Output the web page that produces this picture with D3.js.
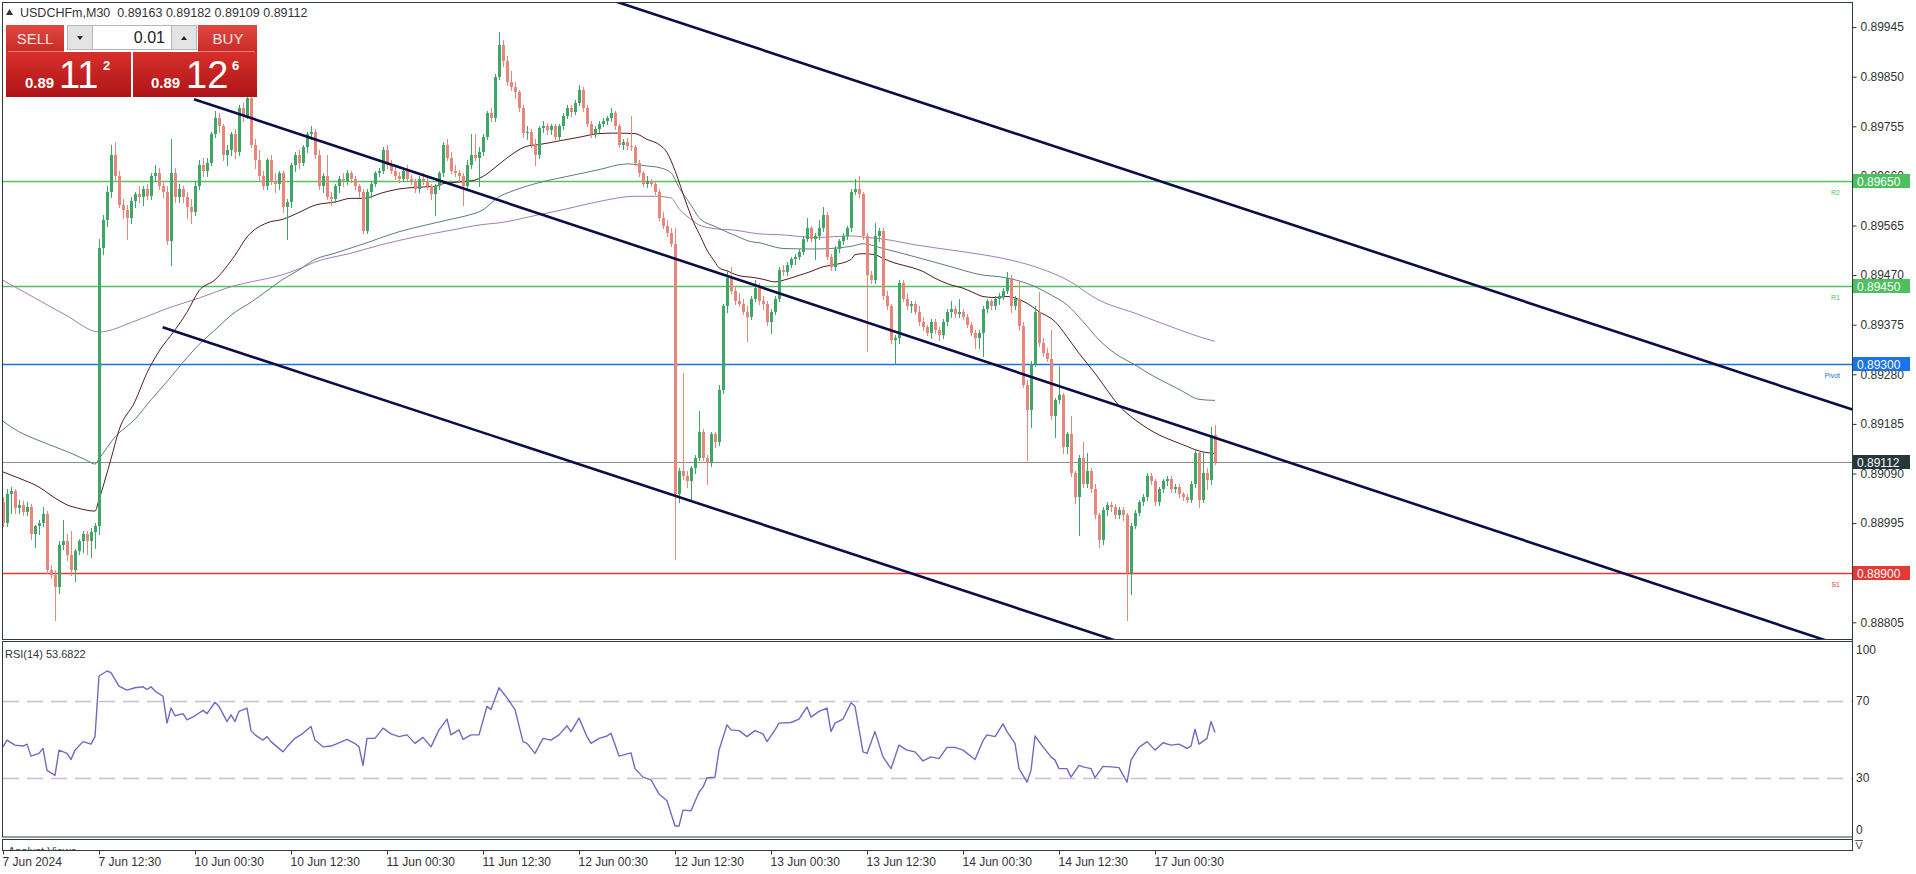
<!DOCTYPE html>
<html><head><meta charset="utf-8">
<script src="https://cdn.jsdelivr.net/npm/d3@7"></script>
<style>
body{margin:0;background:#fff;overflow:hidden}
svg{display:block}
text{font-family:'Liberation Sans',Arial,sans-serif}
</style></head>
<body><svg id="c" width="1916" height="874"></svg>
<script>
// ---------- DATA ----------
const symbolTitle = "USDCHFm,M30";
const headerOHLC = ["0.89163","0.89182","0.89109","0.89112"];
const rsiTitle = "RSI(14)";
const rsiCurrentText = "53.6822";
const open = [
.89036,.88995,.89050,.89057,.89023,.89030,.89016,.89026,.88975,.88989,
.88995,.89012,.88906,.88896,.88872,.88954,.88961,.88934,.88906,.88941,
.88961,.88975,.88961,.88978,.88989,.89522,.89575,.89630,.89700,.89660,
.89605,.89595,.89580,.89612,.89625,.89620,.89635,.89622,.89660,.89665,
.89640,.89630,.89535,.89665,.89620,.89635,.89620,.89600,.89590,.89640,
.89680,.89670,.89685,.89740,.89770,.89755,.89700,.89710,.89740,.89705,
.89790,.89775,.89810,.89720,.89690,.89660,.89640,.89690,.89650,.89645,
.89665,.89600,.89610,.89680,.89700,.89685,.89715,.89740,.89745,.89700,
.89640,.89660,.89620,.89615,.89640,.89655,.89650,.89665,.89655,.89640,
.89630,.89555,.89630,.89645,.89665,.89670,.89710,.89680,.89670,.89660,
.89655,.89670,.89655,.89650,.89635,.89655,.89650,.89640,.89625,.89640,
.89665,.89720,.89695,.89670,.89665,.89660,.89640,.89680,.89700,.89695,
.89705,.89735,.89780,.89770,.89850,.89910,.89880,.89840,.89830,.89820,
.89790,.89742,.89745,.89720,.89700,.89752,.89755,.89748,.89755,.89735,
.89755,.89775,.89790,.89782,.89800,.89825,.89790,.89760,.89740,.89750,
.89760,.89765,.89770,.89780,.89755,.89720,.89725,.89718,.89715,.89685,
.89665,.89645,.89650,.89645,.89630,.89580,.89565,.89550,.89530,.89050,
.89095,.89085,.89075,.89100,.89120,.89170,.89120,.89110,.89165,.89150,
.89250,.89410,.89465,.89440,.89420,.89415,.89400,.89390,.89425,.89445,
.89420,.89415,.89380,.89400,.89425,.89480,.89475,.89490,.89500,.89505,
.89515,.89540,.89560,.89540,.89545,.89560,.89585,.89505,.89485,.89520,
.89535,.89545,.89560,.89630,.89635,.89625,.89545,.89470,.89460,.89545,
.89555,.89430,.89410,.89345,.89350,.89455,.89425,.89410,.89415,.89400,
.89380,.89370,.89360,.89380,.89365,.89355,.89380,.89400,.89405,.89395,
.89400,.89390,.89375,.89360,.89350,.89360,.89405,.89420,.89410,.89425,
.89430,.89440,.89465,.89410,.89425,.89372,.89260,.89212,.89300,.89400,
.89340,.89320,.89310,.89200,.89230,.89240,.89140,.89165,.89090,.89045,
.89120,.89070,.89095,.89060,.89010,.88963,.89020,.89030,.89025,.89010,
.89020,.89010,.88900,.88990,.89015,.89035,.89045,.89085,.89075,.89035,
.89060,.89075,.89080,.89060,.89065,.89050,.89045,.89040,.89070,.89130,
.89040,.89090,.89078,.89163];
const high = [
.89045,.89060,.89065,.89060,.89040,.89038,.89035,.89032,.88992,.89000,
.89025,.89018,.88915,.88905,.88960,.89000,.88975,.88980,.88945,.88965,
.88980,.88980,.88985,.88995,.89540,.89585,.89640,.89720,.89725,.89670,
.89615,.89605,.89620,.89630,.89640,.89640,.89645,.89665,.89680,.89675,
.89650,.89640,.89730,.89675,.89645,.89640,.89630,.89615,.89650,.89690,
.89695,.89695,.89745,.89785,.89780,.89760,.89720,.89745,.89750,.89795,
.89800,.89830,.89815,.89730,.89710,.89670,.89695,.89700,.89665,.89670,
.89670,.89615,.89685,.89705,.89710,.89720,.89745,.89755,.89750,.89710,
.89665,.89700,.89630,.89645,.89660,.89665,.89672,.89670,.89660,.89645,
.89635,.89635,.89650,.89670,.89675,.89715,.89720,.89690,.89680,.89668,
.89675,.89680,.89662,.89655,.89660,.89665,.89660,.89645,.89645,.89670,
.89725,.89730,.89705,.89680,.89672,.89665,.89690,.89740,.89740,.89715,
.89740,.89785,.89790,.89855,.89935,.89920,.89890,.89860,.89840,.89825,
.89795,.89755,.89750,.89730,.89755,.89765,.89762,.89760,.89760,.89760,
.89780,.89795,.89795,.89805,.89835,.89830,.89795,.89765,.89755,.89765,
.89770,.89775,.89790,.89785,.89760,.89730,.89732,.89775,.89720,.89690,
.89670,.89660,.89655,.89650,.89635,.89590,.89575,.89560,.89560,.89100,
.89283,.89095,.89105,.89125,.89210,.89175,.89125,.89170,.89170,.89260,
.89415,.89480,.89485,.89450,.89435,.89425,.89410,.89430,.89460,.89455,
.89430,.89420,.89405,.89430,.89485,.89490,.89495,.89505,.89510,.89520,
.89545,.89580,.89565,.89550,.89575,.89600,.89590,.89510,.89525,.89540,
.89550,.89565,.89635,.89655,.89660,.89630,.89550,.89478,.89570,.89560,
.89560,.89440,.89415,.89355,.89460,.89460,.89435,.89420,.89420,.89410,
.89390,.89375,.89385,.89385,.89370,.89385,.89405,.89420,.89410,.89425,
.89405,.89395,.89380,.89365,.89365,.89410,.89425,.89425,.89430,.89435,
.89445,.89475,.89470,.89430,.89458,.89380,.89270,.89305,.89410,.89438,
.89350,.89330,.89365,.89235,.89295,.89245,.89170,.89200,.89095,.89125,
.89150,.89130,.89100,.89070,.89015,.89025,.89035,.89035,.89032,.89025,
.89025,.89015,.88995,.89020,.89040,.89050,.89090,.89090,.89080,.89065,
.89080,.89085,.89085,.89070,.89070,.89055,.89050,.89075,.89135,.89135,
.89130,.89100,.89180,.89182];
const low = [
.88990,.88990,.89015,.89015,.89015,.89010,.89010,.88965,.88950,.88975,
.88990,.88900,.88890,.88810,.88862,.88945,.88925,.88895,.88885,.88935,
.88940,.88935,.88930,.88947,.88975,.89510,.89565,.89620,.89650,.89600,
.89580,.89540,.89570,.89600,.89610,.89605,.89615,.89615,.89650,.89635,
.89620,.89530,.89490,.89610,.89610,.89610,.89580,.89570,.89585,.89635,
.89660,.89660,.89680,.89735,.89745,.89690,.89680,.89700,.89695,.89700,
.89765,.89770,.89715,.89675,.89650,.89635,.89635,.89645,.89630,.89635,
.89590,.89540,.89600,.89670,.89675,.89680,.89705,.89730,.89695,.89635,
.89630,.89615,.89605,.89610,.89630,.89640,.89645,.89648,.89635,.89620,
.89550,.89550,.89620,.89640,.89660,.89665,.89675,.89665,.89655,.89648,
.89650,.89650,.89645,.89630,.89630,.89645,.89635,.89615,.89585,.89635,
.89660,.89690,.89665,.89660,.89650,.89605,.89635,.89675,.89690,.89640,
.89700,.89730,.89765,.89765,.89845,.89870,.89835,.89825,.89810,.89785,
.89735,.89730,.89715,.89680,.89695,.89745,.89740,.89740,.89730,.89730,
.89750,.89770,.89775,.89778,.89795,.89785,.89755,.89735,.89735,.89745,
.89755,.89760,.89765,.89750,.89715,.89712,.89712,.89710,.89680,.89660,
.89640,.89638,.89640,.89625,.89575,.89560,.89545,.89525,.88927,.89035,
.89080,.89065,.89040,.89090,.89115,.89115,.89070,.89105,.89140,.89145,
.89245,.89400,.89435,.89415,.89410,.89395,.89344,.89385,.89420,.89415,
.89405,.89375,.89360,.89395,.89420,.89470,.89470,.89485,.89492,.89500,
.89510,.89535,.89535,.89500,.89540,.89555,.89500,.89480,.89480,.89515,
.89530,.89540,.89555,.89625,.89620,.89540,.89325,.89455,.89455,.89535,
.89425,.89405,.89340,.89300,.89340,.89420,.89405,.89400,.89395,.89375,
.89365,.89355,.89350,.89360,.89345,.89350,.89375,.89390,.89390,.89390,
.89385,.89370,.89355,.89330,.89330,.89315,.89400,.89405,.89405,.89415,
.89425,.89435,.89400,.89405,.89365,.89255,.89116,.89180,.89295,.89335,
.89315,.89305,.89195,.89160,.89225,.89130,.89130,.89085,.89033,.88972,
.89065,.89065,.89055,.89005,.88950,.88955,.89010,.89018,.89005,.89005,
.89000,.88810,.88860,.88985,.89010,.89030,.89040,.89070,.89030,.89030,
.89055,.89068,.89055,.89055,.89045,.89040,.89035,.89035,.89065,.89025,
.89035,.89060,.89070,.89109];
const close = [
.88995,.89050,.89057,.89023,.89030,.89016,.89026,.88975,.88989,.88995,
.89012,.88906,.88896,.88872,.88954,.88961,.88934,.88906,.88941,.88961,
.88975,.88961,.88978,.88989,.89522,.89575,.89630,.89700,.89660,.89605,
.89595,.89580,.89612,.89625,.89620,.89635,.89622,.89660,.89665,.89640,
.89630,.89535,.89665,.89620,.89635,.89620,.89600,.89590,.89640,.89680,
.89670,.89685,.89740,.89770,.89755,.89700,.89710,.89740,.89705,.89790,
.89775,.89810,.89720,.89690,.89660,.89640,.89690,.89650,.89645,.89665,
.89600,.89610,.89680,.89700,.89685,.89715,.89740,.89745,.89700,.89640,
.89660,.89620,.89615,.89640,.89655,.89650,.89665,.89655,.89640,.89630,
.89555,.89630,.89645,.89665,.89670,.89710,.89680,.89670,.89660,.89655,
.89670,.89655,.89650,.89635,.89655,.89650,.89640,.89625,.89640,.89665,
.89720,.89695,.89670,.89665,.89660,.89640,.89680,.89700,.89695,.89705,
.89735,.89780,.89770,.89850,.89910,.89880,.89840,.89830,.89820,.89790,
.89742,.89745,.89720,.89700,.89752,.89755,.89748,.89755,.89735,.89755,
.89775,.89790,.89782,.89800,.89825,.89790,.89760,.89740,.89750,.89760,
.89765,.89770,.89780,.89755,.89720,.89725,.89718,.89715,.89685,.89665,
.89645,.89650,.89645,.89630,.89580,.89565,.89550,.89530,.89050,.89095,
.89085,.89075,.89100,.89120,.89170,.89120,.89110,.89165,.89150,.89250,
.89410,.89465,.89440,.89420,.89415,.89400,.89390,.89425,.89445,.89420,
.89415,.89380,.89400,.89425,.89480,.89475,.89490,.89500,.89505,.89515,
.89540,.89560,.89540,.89545,.89560,.89585,.89505,.89485,.89520,.89535,
.89545,.89560,.89630,.89635,.89625,.89545,.89470,.89460,.89545,.89555,
.89430,.89410,.89345,.89350,.89455,.89425,.89410,.89415,.89400,.89380,
.89370,.89360,.89380,.89365,.89355,.89380,.89400,.89405,.89395,.89400,
.89390,.89375,.89360,.89350,.89360,.89405,.89420,.89410,.89425,.89430,
.89440,.89465,.89410,.89425,.89372,.89260,.89212,.89300,.89400,.89340,
.89320,.89310,.89200,.89230,.89240,.89140,.89165,.89090,.89045,.89120,
.89070,.89095,.89060,.89010,.88963,.89020,.89030,.89025,.89010,.89020,
.89010,.88900,.88990,.89015,.89035,.89045,.89085,.89075,.89035,.89060,
.89075,.89080,.89060,.89065,.89050,.89045,.89040,.89070,.89130,.89040,
.89090,.89078,.89163,.89112];

// moving averages, read at bar positions
const maFastIdx = [0,4,9,13,16,19,23,24,27,29,33,36,39,43,46,49,53,58,61,66,70,74,78,83,87,90,95,99,103,108,110,115,118,120,123,127,131,134,139,144,149,153,158,161,164,166,168,171,173,174,176,178,179,181,184,188,190,193,195,198,202,205,208,212,213,215,218,220,223,227,230,233,237,240,243,245,248,251,253,256,259,263,266,269,273,276,279,283,286,289,293,296,299,301,303];
const maFastVal = [.89093,.89081,.89064,.89043,.8903,.89023,.89018,.8904,.89118,.89173,.89228,.89283,.89324,.89365,.89399,.8944,.89461,.89508,.89543,.8957,.89577,.8959,.89604,.8961,.89617,.89617,.89628,.89635,.89638,.8964,.89645,.89649,.89652,.89659,.89676,.897,.89717,.8972,.89727,.89734,.89741,.89742,.89741,.8973,.8972,.89705,.8967,.89604,.89565,.8955,.89518,.89495,.89484,.89478,.89469,.89465,.89462,.89457,.8946,.89467,.89477,.89486,.8949,.895,.89509,.89511,.89509,.89502,.89493,.89485,.89477,.89464,.89451,.89445,.89435,.89429,.89427,.89429,.89426,.89416,.894,.89381,.89352,.8932,.89282,.8925,.8922,.89193,.89177,.89164,.89151,.89142,.89133,.8913,.89128];
const maMidIdx = [0,4,9,16,21,23,24,28,33,37,41,45,49,53,58,62,66,70,74,78,83,87,91,95,99,103,108,112,116,120,124,127,133,141,149,156,161,164,167,169,172,174,178,183,187,189,195,203,212,215,220,228,237,245,249,253,258,262,266,270,274,278,283,287,291,295,299,303];
const maMidVal = [.8919,.8917,.89153,.89132,.89115,.89108,.89118,.8916,.89194,.89231,.89266,.89303,.89337,.89365,.89399,.89418,.8944,.89462,.8948,.895,.89512,.89522,.89532,.89543,.89553,.89561,.8957,.89577,.89584,.89595,.8962,.8963,.89645,.89659,.89672,.89683,.89679,.89676,.89666,.89638,.89604,.8958,.89563,.89546,.89534,.89532,.89521,.8952,.89525,.8953,.89521,.89505,.89486,.8947,.89467,.89461,.89448,.89432,.89413,.89381,.89346,.8932,.89298,.89279,.89263,.89247,.89232,.8923];
const maSlowIdx = [0,8,16,24,33,41,49,58,62,70,74,78,87,95,103,112,120,124,133,141,149,158,163,167,169,172,174,178,183,189,195,203,212,216,220,228,237,245,250,258,266,274,283,291,299,303];
const maSlowVal = [.8946,.89426,.89392,.89361,.89382,.89406,.89426,.8945,.89457,.89471,.89482,.89495,.89512,.89529,.89543,.89556,.89567,.8957,.89584,.89597,.89611,.89621,.89621,.89618,.89597,.89577,.89566,.89559,.89556,.89549,.89547,.89542,.89545,.89542,.89539,.89528,.89518,.89509,.89502,.89486,.89461,.89422,.89397,.89374,.89352,.89343];

// RSI(14), read at bar positions
const rsiIdx = [0,1,3,5,6,7,9,10,11,13,14,16,17,18,20,22,23,24,26,27,29,31,33,35,36,37,38,40,41,42,43,45,46,48,50,51,53,54,56,57,58,59,61,62,63,65,66,67,70,71,73,75,77,78,80,82,84,86,88,89,90,91,93,95,97,99,101,103,105,107,109,111,112,114,115,117,119,121,122,124,126,128,130,131,133,135,137,139,141,142,144,146,147,149,151,152,154,157,158,160,162,164,166,168,169,170,172,174,175,176,178,179,181,182,184,186,188,190,191,193,194,197,199,201,202,204,206,207,208,210,212,213,215,216,218,220,222,224,226,228,230,232,234,236,238,240,243,245,246,248,250,251,253,254,256,257,258,260,262,263,264,266,267,269,270,272,273,275,277,279,281,282,284,286,288,290,292,294,296,297,298,299,301,302,303];
const rsiVal = [46.2,49.7,47.1,46.6,47.6,41.4,42.8,45.4,34.0,31.4,44.5,42.8,39.6,44.5,48.9,47.6,51.5,82.9,85.5,84.7,77.7,75.6,76.8,77.3,75.9,77.3,75.1,72.4,58.5,66.3,62.3,63.4,60.2,62.3,65.1,63.4,69.3,67.2,59.3,62.8,59.3,64.6,66.3,54.6,52.4,49.7,51.5,48.9,43.6,46.2,50.6,53.2,56.7,49.7,46.2,46.6,48.3,50.1,47.9,46.2,36.6,50.6,50.6,55.9,52.9,51.5,52.4,48.0,51.1,46.2,55.0,60.6,52.4,55.0,50.1,52.4,52.4,67.2,65.5,76.8,71.6,65.5,48.9,48.0,42.8,50.6,49.7,52.4,57.1,54.1,61.1,51.5,48.0,50.6,51.8,53.2,41.4,43.1,34.9,30.5,29.1,21.8,18.3,5.2,5.2,13.4,13.1,22.7,25.3,30.2,30.5,44.5,57.6,55.0,54.6,51.5,54.6,52.9,48.9,55.0,58.5,58.8,60.6,66.9,61.6,64.6,66.3,54.1,58.5,60.6,69.0,67.2,43.6,42.8,54.1,41.0,34.9,47.1,44.5,43.6,38.9,41.0,40.1,45.9,45.9,44.5,39.6,49.4,52.4,51.5,58.1,54.1,48.0,34.9,27.9,34.0,51.8,46.2,41.0,39.3,34.9,34.9,30.5,36.6,35.8,34.9,30.2,36.1,35.8,35.4,27.9,39.3,45.9,48.9,44.5,48.3,47.1,47.6,45.4,46.6,55.3,47.6,50.6,59.3,53.68];
const rsiLevels = [70, 30];
const rsiLabels = [100, 70, 30, 0];

// horizontal levels
const levelPrices = [0.89650, 0.89450, 0.89300, 0.88900];
const levelNames = ["R2", "R1", "Pivot", "S1"];
const currentPrice = 0.89112;

// trend lines: start (bar, price) and end (bar, price)
const trendStartIdx = [150, 47.75, 39.9];
const trendStartPrice = [0.90002, 0.89807, 0.89370];
const trendEndIdx = [470, 470, 300];
const trendEndPrice = [0.89193, 0.88734, 0.88715];

// axes
const priceTicks = [0.89945,0.89850,0.89755,0.89660,0.89565,0.89470,0.89375,0.89280,0.89185,0.89090,0.88995,0.88900,0.88805];
const xTickIdx = [0,24,48,72,96,120,144,168,192,216,240,264,288];
const xTickLabels = ["7 Jun 2024","7 Jun 12:30","10 Jun 00:30","10 Jun 12:30","11 Jun 00:30","11 Jun 12:30","12 Jun 00:30","12 Jun 12:30","13 Jun 00:30","13 Jun 12:30","14 Jun 00:30","14 Jun 12:30","17 Jun 00:30"];

// ---------- STYLE ----------
const FONT = "'Liberation Sans',Arial,sans-serif";
const C = {
  bull:"#3ea768", bear:"#e8867b", frame:"#2e3b3b", axisText:"#333",
  maFast:"#5a1c1c", maMid:"#5f7d84", maSlow:"#a37fb6",
  trend:"#0c0c48", rsi:"#7866c0", rsiLvl:"#d0bcd0",
  levelLine:["#55c066","#55c066","#1c73d4","#e53935"],
  levelBox:["#4dbf5f","#4dbf5f","#1a73e8","#e53935"],
  cur:"#8c8c8c", curBox:"#25373a"
};

const svg = d3.select("#c");
const x = d3.scaleLinear().domain([0, 303]).range([3, 1215]);
const y = d3.scaleLinear().domain([0.88773, 0.89995]).range([639, 1]);
const yr = d3.scaleLinear().domain([0, 100]).range([836, 643]);

const defs = svg.append("defs");
defs.append("clipPath").attr("id","clipP").append("rect").attr("x",3).attr("y",3).attr("width",1849).attr("height",636);
defs.append("clipPath").attr("id","clipR").append("rect").attr("x",3).attr("y",642).attr("width",1849).attr("height",195);
defs.append("clipPath").attr("id","clipA").append("rect").attr("x",3).attr("y",840).attr("width",1849).attr("height",10);
const g1 = defs.append("linearGradient").attr("id","gHead").attr("x1",0).attr("y1",0).attr("x2",0).attr("y2",1);
g1.append("stop").attr("offset","0%").attr("stop-color","#e0473f");
g1.append("stop").attr("offset","100%").attr("stop-color","#c92b27");
const g2 = defs.append("linearGradient").attr("id","gPrice").attr("x1",0).attr("y1",0).attr("x2",0).attr("y2",1);
g2.append("stop").attr("offset","0%").attr("stop-color","#d8302b");
g2.append("stop").attr("offset","100%").attr("stop-color","#ad1417");

svg.append("rect").attr("width",1916).attr("height",874).attr("fill","#fff");

// ---------- PRICE PANEL ----------
const gp = svg.append("g").attr("clip-path","url(#clipP)");

levelPrices.forEach((p,k)=>{
  gp.append("line").attr("x1",3).attr("x2",1852).attr("y1",Math.round(y(p))+0.5).attr("y2",Math.round(y(p))+0.5)
    .attr("stroke",C.levelLine[k]).attr("stroke-width",1.6);
  gp.append("text").attr("x",1840).attr("y",Math.round(y(p))+14).attr("text-anchor","end")
    .attr("font-size",7).attr("fill",C.levelLine[k]).attr("font-family",FONT).text(levelNames[k]);
});
gp.append("line").attr("x1",3).attr("x2",1852).attr("y1",Math.round(y(currentPrice))+0.5).attr("y2",Math.round(y(currentPrice))+0.5)
  .attr("stroke",C.cur).attr("stroke-width",1);

const maLine = d3.line().x(d=>x(d[0])).y(d=>y(d[1])).curve(d3.curveMonotoneX);
[[maSlowIdx,maSlowVal,C.maSlow],[maMidIdx,maMidVal,C.maMid],[maFastIdx,maFastVal,C.maFast]].forEach(([ix,vs,col])=>{
  gp.append("path").attr("d",maLine(ix.map((v,k)=>[v,vs[k]]))).attr("fill","none").attr("stroke",col).attr("stroke-width",1);
});

const bars = d3.range(close.length);
const gc = gp.append("g");
gc.selectAll("line.w").data(bars).join("line").attr("class","w")
  .attr("x1",i=>x(i)+0.5).attr("x2",i=>x(i)+0.5)
  .attr("y1",i=>Math.round(y(high[i]))).attr("y2",i=>Math.round(y(low[i]))+1)
  .attr("stroke",i=>close[i]>=open[i]?C.bull:C.bear).attr("stroke-width",1);
gc.selectAll("rect.b").data(bars).join("rect").attr("class","b")
  .attr("x",i=>x(i)-1).attr("width",3)
  .attr("y",i=>Math.round(y(Math.max(open[i],close[i]))))
  .attr("height",i=>Math.max(1,Math.round(y(Math.min(open[i],close[i])))-Math.round(y(Math.max(open[i],close[i])))))
  .attr("fill",i=>close[i]>=open[i]?C.bull:C.bear);

trendStartIdx.forEach((s,k)=>{
  gp.append("line").attr("x1",x(s)).attr("y1",y(trendStartPrice[k]))
    .attr("x2",x(trendEndIdx[k])).attr("y2",y(trendEndPrice[k]))
    .attr("stroke",C.trend).attr("stroke-width",2.6);
});

// ---------- RSI PANEL ----------
const gr = svg.append("g").attr("clip-path","url(#clipR)");
rsiLevels.forEach(v=>{
  gr.append("line").attr("x1",3).attr("x2",1852).attr("y1",Math.round(yr(v))+0.5).attr("y2",Math.round(yr(v))+0.5)
    .attr("stroke",C.rsiLvl).attr("stroke-width",1.3).attr("stroke-dasharray","16,8");
});
const rsiLine = d3.line().x(d=>x(d[0])).y(d=>yr(d[1]));
gr.append("path").attr("d",rsiLine(rsiIdx.map((v,k)=>[v,rsiVal[k]]))).attr("fill","none")
  .attr("stroke",C.rsi).attr("stroke-width",1.4).attr("stroke-linejoin","round");
svg.append("text").attr("x",5).attr("y",658).attr("font-size",11).attr("fill","#333").attr("font-family",FONT)
  .text(rsiTitle + " " + rsiCurrentText);

rsiLabels.forEach(v=>{
  const yy = Math.min(830, Math.max(650, yr(v)));
  svg.append("text").attr("x",1856).attr("y",yy+4).attr("font-size",12).attr("fill",C.axisText)
    .attr("font-family",FONT).text(v);
});

svg.append("g").attr("clip-path","url(#clipA)").append("text").attr("x",8).attr("y",855)
  .attr("font-size",11).attr("fill","#444").attr("font-family",FONT).text("Analyst Views");

// frames
svg.append("rect").attr("x",2.5).attr("y",2.5).attr("width",1850).attr("height",637).attr("fill","none").attr("stroke",C.frame);
svg.append("rect").attr("x",2.5).attr("y",641.5).attr("width",1850).attr("height",195.5).attr("fill","none").attr("stroke",C.frame);
svg.append("rect").attr("x",2.5).attr("y",839.5).attr("width",1850).attr("height",11).attr("fill","none").attr("stroke",C.frame);

// right price axis
const axR = svg.append("g").attr("transform","translate(1852.5,0)")
  .call(d3.axisRight(y).tickValues(priceTicks).tickFormat(d3.format(".5f")).tickSize(4).tickPadding(4));
axR.select(".domain").remove();
axR.selectAll("line").attr("stroke",C.axisText);
axR.selectAll("text").attr("font-size",12).attr("fill",C.axisText).attr("font-family",FONT);

levelPrices.forEach((p,k)=>{
  const yy = Math.round(y(p));
  svg.append("rect").attr("x",1853).attr("y",yy-7).attr("width",57).attr("height",14).attr("fill",C.levelBox[k]);
  svg.append("text").attr("x",1857).attr("y",yy+4.5).attr("font-size",12).attr("fill","#fff").attr("font-family",FONT)
    .text(d3.format(".5f")(p));
});
{
  const yy = Math.round(y(currentPrice));
  svg.append("rect").attr("x",1853).attr("y",yy-7).attr("width",57).attr("height",14).attr("fill",C.curBox);
  svg.append("text").attr("x",1857).attr("y",yy+4.5).attr("font-size",12).attr("fill","#fff").attr("font-family",FONT)
    .text(d3.format(".5f")(currentPrice));
}

// bottom time axis
const axB = svg.append("g").attr("transform","translate(0,850.5)")
  .call(d3.axisBottom(x).tickValues(xTickIdx).tickFormat((d,k)=>xTickLabels[k]).tickSize(4).tickPadding(3));
axB.select(".domain").remove();
axB.selectAll("line").attr("stroke",C.axisText);
axB.selectAll("text").attr("text-anchor","start").attr("x",-1).attr("font-size",12).attr("fill",C.axisText).attr("font-family",FONT);

svg.append("line").attr("x1",1852.5).attr("x2",1852.5).attr("y1",2).attr("y2",851).attr("stroke",C.frame);
svg.append("path").attr("d","M1855,840.5h8M1856,842l3,7l3,-7").attr("fill","none").attr("stroke","#555").attr("stroke-width",1);

// ---------- HEADER ----------
svg.append("path").attr("d","M6,15 L9.5,9 L13,15 Z").attr("fill","#333");
svg.append("text").attr("x",20).attr("y",17).attr("font-size",12.5).attr("fill","#333").attr("font-family",FONT)
  .attr("xml:space","preserve").text(symbolTitle + "  " + headerOHLC.join(" "));

// ---------- TRADE PANEL ----------
const tp = svg.append("g");
tp.append("rect").attr("x",6).attr("y",25).attr("width",58).attr("height",27).attr("fill","url(#gHead)");
tp.append("rect").attr("x",198).attr("y",25).attr("width",59).attr("height",27).attr("fill","url(#gHead)");
tp.append("rect").attr("x",6).attr("y",52).attr("width",125).attr("height",45).attr("fill","url(#gPrice)");
tp.append("rect").attr("x",133).attr("y",52).attr("width",124).attr("height",45).attr("fill","url(#gPrice)");
tp.append("line").attr("x1",8).attr("x2",64).attr("y1",51.5).attr("y2",51.5).attr("stroke","#ee7a72").attr("stroke-width",1);
tp.append("line").attr("x1",198).attr("x2",255).attr("y1",51.5).attr("y2",51.5).attr("stroke","#ee7a72").attr("stroke-width",1);
tp.append("text").attr("x",35).attr("y",44).attr("text-anchor","middle").attr("font-size",15).attr("fill","#fbe3e3").attr("font-family",FONT).text("SELL");
tp.append("text").attr("x",228).attr("y",44).attr("text-anchor","middle").attr("font-size",15).attr("fill","#fbe3e3").attr("font-family",FONT).text("BUY");
tp.append("rect").attr("x",67.5).attr("y",25.5).attr("width",129).attr("height",24).attr("fill","#fff").attr("stroke","#b5b5b5");
tp.append("rect").attr("x",67.5).attr("y",25.5).attr("width",25).attr("height",24).attr("fill","#e4e4e4").attr("stroke","#b5b5b5");
tp.append("rect").attr("x",171.5).attr("y",25.5).attr("width",25).attr("height",24).attr("fill","#e4e4e4").attr("stroke","#b5b5b5");
tp.append("path").attr("d","M77,36 L83,36 L80,40 Z").attr("fill","#222");
tp.append("path").attr("d","M181,40 L187,40 L184,36 Z").attr("fill","#222");
tp.append("text").attr("x",165).attr("y",43).attr("text-anchor","end").attr("font-size",16).attr("fill","#222").attr("font-family",FONT).text("0.01");
tp.append("text").attr("x",25).attr("y",88).attr("font-size",15).attr("font-weight","bold").attr("fill","#fff").attr("font-family",FONT).text("0.89");
tp.append("text").attr("x",59).attr("y",88).attr("font-size",38).attr("fill","#fff").attr("font-family",FONT).text("11");
tp.append("text").attr("x",103).attr("y",70).attr("font-size",13).attr("font-weight","bold").attr("fill","#fff").attr("font-family",FONT).text("2");
tp.append("text").attr("x",151).attr("y",88).attr("font-size",15).attr("font-weight","bold").attr("fill","#fff").attr("font-family",FONT).text("0.89");
tp.append("text").attr("x",186).attr("y",88).attr("font-size",38).attr("fill","#fff").attr("font-family",FONT).text("12");
tp.append("text").attr("x",232).attr("y",70).attr("font-size",13).attr("font-weight","bold").attr("fill","#fff").attr("font-family",FONT).text("6");
</script>
</body></html>
